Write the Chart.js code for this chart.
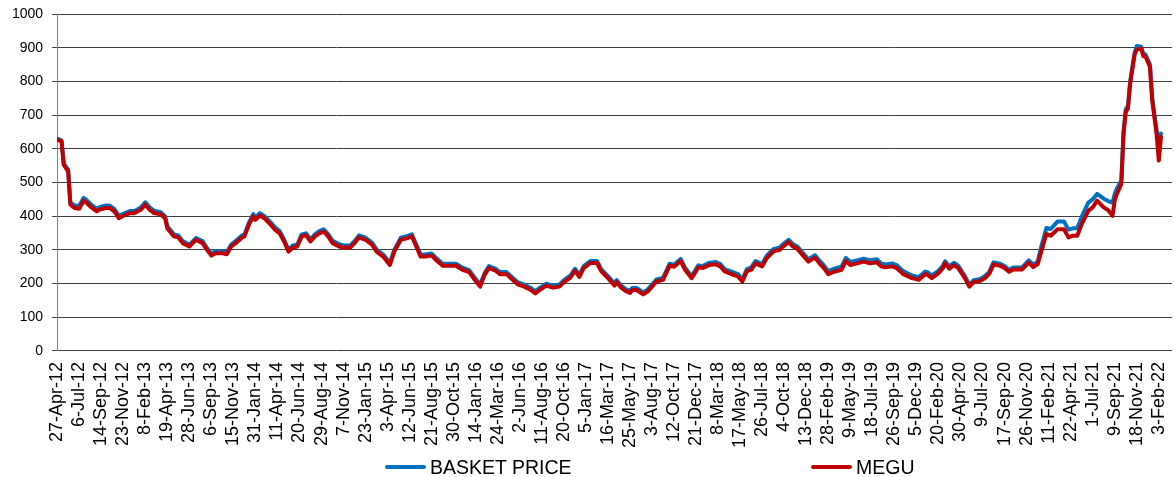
<!DOCTYPE html>
<html lang="en">
<head>
    <meta charset="UTF-8">
    <title>Basket Price vs MEGU</title>
    <script src="https://cdn.jsdelivr.net/npm/chart.js"></script>
    <style>
        body {
            margin: 0;
            background: #fff;
            font-family: "Liberation Sans", Arial, sans-serif;
        }
        #wrap {
            position: relative;
            width: 1175px;
            height: 477px;
        }
        .key {
            position: absolute;
            top: 456px;
            font-size: 19.5px;
            line-height: 22px;
            color: #000;
            white-space: nowrap;
        }
        .key i {
            display: inline-block;
            width: 41px;
            height: 4px;
            margin-right: 4px;
            vertical-align: 5px;
            border-radius: 2px;
        }
    </style>
</head>
<body>
<div id="wrap">
    <canvas id="priceChart"></canvas>
    <div class="key" style="left:385px"><i style="background:#0070C0"></i>BASKET PRICE</div>
    <div class="key" style="left:811px"><i style="background:#C00000"></i>MEGU</div>
</div>

<script>
// x-axis labels, one every 10 weekly observations
const tickLabels = ['27-Apr-12', '6-Jul-12', '14-Sep-12', '23-Nov-12', '8-Feb-13', '19-Apr-13', '28-Jun-13',
    '6-Sep-13', '15-Nov-13', '31-Jan-14', '11-Apr-14', '20-Jun-14', '29-Aug-14', '7-Nov-14', '23-Jan-15',
    '3-Apr-15', '12-Jun-15', '21-Aug-15', '30-Oct-15', '14-Jan-16', '24-Mar-16', '2-Jun-16', '11-Aug-16',
    '20-Oct-16', '5-Jan-17', '16-Mar-17', '25-May-17', '3-Aug-17', '12-Oct-17', '21-Dec-17', '8-Mar-18',
    '17-May-18', '26-Jul-18', '4-Oct-18', '13-Dec-18', '28-Feb-19', '9-May-19', '18-Jul-19', '26-Sep-19',
    '5-Dec-19', '20-Feb-20', '30-Apr-20', '9-Jul-20', '17-Sep-20', '26-Nov-20', '11-Feb-21', '22-Apr-21',
    '1-Jul-21', '9-Sep-21', '18-Nov-21', '3-Feb-22'];

const weeks = [0, 2, 3, 5, 6, 8, 10, 12, 13, 15, 18, 19, 22, 24, 26, 28, 31, 33, 35, 38, 40, 42, 44, 47, 49,
    50, 53, 55, 57, 60, 63, 66, 68, 70, 72, 75, 77, 79, 81, 84, 85, 87, 89, 90, 92, 94, 97, 99, 101, 103,
    105, 107, 109, 111, 113, 115, 117, 119, 121, 123, 125, 128, 130, 133, 135, 137, 140, 143, 145, 148,
    151, 153, 156, 159, 161, 163, 165, 167, 170, 172, 175, 178, 181, 184, 187, 189, 192, 194, 196, 199,
    201, 204, 206, 209, 212, 215, 217, 219, 222, 225, 228, 230, 233, 235, 237, 239, 242, 245, 247, 250,
    253, 254, 256, 258, 260, 261, 263, 266, 268, 270, 272, 275, 278, 280, 283, 285, 288, 291, 293, 296,
    299, 301, 303, 307, 309, 311, 313, 315, 317, 320, 322, 325, 328, 329, 332, 334, 336, 339, 341, 344,
    346, 348, 350, 353, 356, 358, 360, 363, 366, 369, 372, 374, 376, 379, 381, 384, 388, 391, 394, 395,
    397, 400, 402, 403, 405, 407, 409, 412, 414, 416, 419, 421, 423, 425, 428, 430, 432, 434, 438, 441,
    443, 445, 447, 449, 451, 454, 457, 459, 461, 463, 465, 468, 470, 472, 475, 477, 479, 480, 481, 483,
    484, 485, 486, 487, 489, 490, 492, 493, 494, 496, 497, 499, 500, 501];

const basket = [630, 625, 556, 538, 440, 432, 430, 454, 450, 437, 421, 426, 432, 431, 421, 401, 410, 415, 415, 426, 441, 426, 416, 412, 400,
    370, 346, 343, 326, 315, 335, 326, 306, 289, 296, 295, 292, 316, 326, 343, 346, 380, 406, 396, 409, 401, 381, 366, 356, 331,
    301, 313, 316, 346, 349, 331, 346, 356, 361, 347, 327, 317, 313, 313, 326, 343, 336, 321, 301, 286,
    261, 300, 336, 341, 346, 316, 286, 286, 289, 276, 259, 259, 259, 247, 240, 222, 197, 231, 252, 244,
    234, 234, 222, 204, 197, 187, 177, 187, 200, 194, 197, 210, 224, 244, 226, 252, 267, 267, 242, 222,
    200, 210, 194, 184, 178, 187, 187, 174, 182, 197, 212, 217, 259, 256, 273, 247, 222, 254, 252, 262,
    264, 258, 243, 233, 228, 212, 242, 248, 267, 258, 282, 302, 307, 314, 330, 317, 310, 287, 272, 284,
    268, 254, 237, 245, 250, 276, 264, 269, 274, 269, 272, 260, 257, 260, 255, 237, 224, 219, 236, 234,
    224, 238, 253, 266, 251, 262, 253, 222, 197, 210, 214, 222, 234, 263, 259, 252, 241, 248, 248, 269,
    256, 265, 318, 365, 362, 384, 384, 360, 364, 364, 398, 440, 450, 466, 452, 445, 440, 466, 482, 506,
    652, 717, 727, 800, 885, 905, 903, 882, 880, 850, 752, 655, 625, 645];

const megu = [627, 622, 552, 533, 434, 424, 422, 446, 442, 429, 414, 419, 424, 424, 414, 394, 404, 409, 409, 419, 434, 419, 409, 406, 394,
    364, 340, 337, 320, 310, 330, 320, 300, 283, 290, 290, 287, 310, 320, 337, 340, 374, 399, 389, 402, 394, 374, 359, 349, 325,
    295, 307, 310, 340, 343, 325, 340, 349, 354, 340, 320, 310, 307, 307, 320, 337, 330, 315, 295, 280,
    255, 295, 330, 335, 340, 310, 280, 280, 283, 270, 253, 253, 253, 241, 234, 216, 191, 226, 246, 238,
    228, 228, 216, 198, 191, 181, 171, 181, 194, 188, 191, 204, 218, 238, 220, 246, 261, 261, 236, 216,
    194, 204, 188, 178, 172, 181, 181, 168, 176, 191, 206, 211, 253, 250, 267, 241, 216, 248, 246, 255,
    257, 251, 236, 226, 221, 206, 236, 241, 260, 251, 275, 295, 300, 307, 323, 310, 303, 280, 265, 277,
    260, 246, 228, 236, 241, 267, 255, 260, 265, 260, 263, 251, 248, 251, 246, 228, 216, 211, 228, 226,
    216, 231, 246, 260, 244, 255, 246, 216, 191, 204, 208, 216, 228, 257, 253, 246, 235, 242, 242, 262,
    249, 257, 302, 347, 342, 361, 361, 337, 342, 342, 376, 416, 426, 446, 426, 418, 401, 446, 466, 496,
    644, 709, 719, 793, 878, 895, 897, 875, 873, 843, 744, 644, 565, 635];

function toPoints(values) {
    return values.map((v, i) => ({ x: weeks[i], y: v }));
}

const axisFont = { family: '"Liberation Sans", Arial, sans-serif' };

new Chart(document.getElementById('priceChart'), {
    type: 'line',
    data: {
        datasets: [{
            label: 'BASKET PRICE',
            data: toPoints(basket),
            borderColor: '#0070C0',
            order: 2
        }, {
            label: 'MEGU',
            data: toPoints(megu),
            borderColor: '#C00000',
            order: 1
        }]
    },
    options: {
        responsive: true,
        maintainAspectRatio: false,
        animation: false,
        layout: { padding: { left: 3, right: 3, top: 14, bottom: 26 } },
        elements: {
            line: { borderWidth: 4, tension: 0, borderJoinStyle: 'round', borderCapStyle: 'round', fill: false },
            point: { radius: 0, hoverRadius: 0 }
        },
        plugins: {
            legend: { display: false },
            tooltip: { enabled: false }
        },
        scales: {
            x: {
                type: 'linear',
                min: 0,
                max: 506,
                grid: { display: false },
                border: { display: false },
                afterBuildTicks: function(axis) {
                    axis.ticks = tickLabels.map((t, i) => ({ value: i * 10 }));
                },
                // the last date label fits inside the plot, no extra room needed on the right
                afterFit: function(axis) {
                    axis.paddingRight = 0;
                },
                ticks: {
                    autoSkip: false,
                    maxRotation: 90,
                    minRotation: 90,
                    padding: 3,
                    color: '#000',
                    font: { ...axisFont, size: 18 },
                    callback: function(value) {
                        return tickLabels[Math.round(value / 10)];
                    }
                }
            },
            y: {
                min: 0,
                max: 1000,
                // top padding comes from layout.padding instead
                afterFit: function(axis) {
                    axis.paddingTop = 0;
                },
                ticks: {
                    stepSize: 100,
                    padding: 9,
                    color: '#000',
                    font: { ...axisFont, size: 14 },
                    callback: function(value) {
                        return String(value);
                    }
                },
                grid: { color: '#404040', tickLength: 5 },
                border: { color: '#808080' }
            }
        }
    }
});
</script>
</body>
</html>
